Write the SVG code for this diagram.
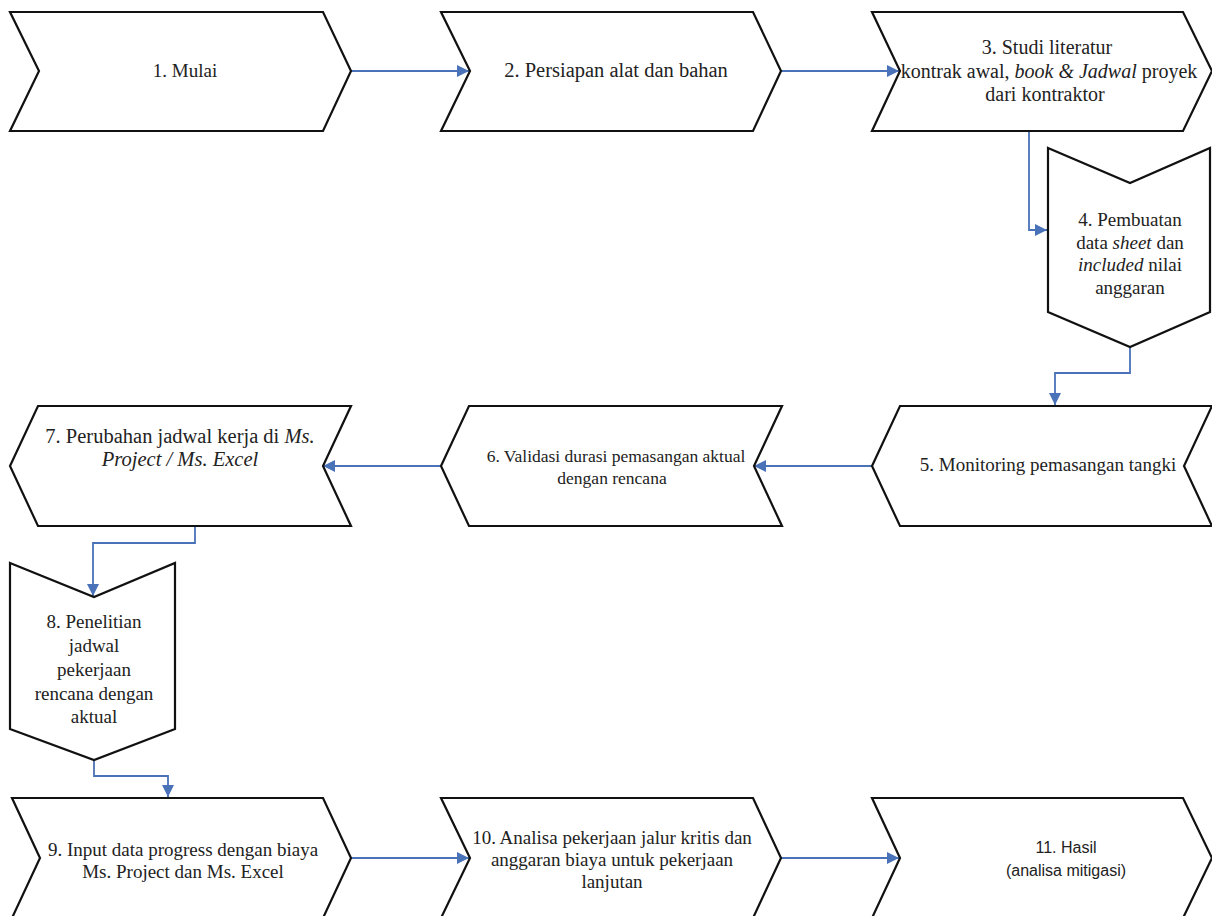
<svg xmlns="http://www.w3.org/2000/svg" width="1212" height="916" viewBox="0 0 1212 916">
<style>
.shape{fill:#fff;stroke:#111;stroke-width:2.2;stroke-linejoin:miter}
.t{font-family:"Liberation Serif","Times New Roman",serif;font-size:19px;fill:#222;text-anchor:middle}
.s{font-family:"Liberation Sans",Arial,sans-serif;font-size:16px;fill:#222;text-anchor:middle}
.c{fill:none;stroke:#4a72b8;stroke-width:1.8}
</style>
<defs>
<marker id="ah" markerUnits="userSpaceOnUse" markerWidth="14" markerHeight="12" refX="12" refY="6" orient="auto">
<path d="M0,0 L12,6 L0,12 Z" fill="#4a72b8"/>
</marker>
</defs>
<rect width="1212" height="916" fill="#fff"/>
<g id="connectors">
<path class="c" d="M351,71 H469" marker-end="url(#ah)"/>
<path class="c" d="M781,71 H899" marker-end="url(#ah)"/>
<path class="c" d="M1029,131 V230 H1047" marker-end="url(#ah)"/>
<path class="c" d="M1130,347 V373 H1055 V405" marker-end="url(#ah)"/>
<path class="c" d="M872,466 H754" marker-end="url(#ah)"/>
<path class="c" d="M441,466 H323" marker-end="url(#ah)"/>
<path class="c" d="M195,526 V543 H93 V596" marker-end="url(#ah)"/>
<path class="c" d="M94,760 V776 H168 V797" marker-end="url(#ah)"/>
<path class="c" d="M351,858 H469" marker-end="url(#ah)"/>
<path class="c" d="M781,858 H899" marker-end="url(#ah)"/>
</g>
<g id="n1">
<polygon class="shape" points="10,12 323,12 351,71 323,131 10,131 39,71"/>
<text class="t" x="185" y="77">1. Mulai</text>
</g>
<g id="n2">
<polygon class="shape" points="441,12 753,12 781,71 753,131 441,131 470,71"/>
<text class="t" x="616" y="77" style="font-size:20.5px">2. Persiapan alat dan bahan</text>
</g>
<g id="n3">
<polygon class="shape" points="872,12 1183,12 1212,71 1183,131 872,131 900,71"/>
<text class="t" x="1047" y="54" style="font-size:20px">3. Studi literatur</text>
<text class="t" x="1049" y="78" style="font-size:20px">kontrak awal, <tspan font-style="italic">book &amp; Jadwal</tspan> proyek</text>
<text class="t" x="1045" y="101" style="font-size:20px">dari kontraktor</text>
</g>
<g id="n4">
<polygon class="shape" points="1048,148 1130,183 1210,148 1210,312 1130,347 1048,312"/>
<text class="t" x="1130" y="226">4. Pembuatan</text>
<text class="t" x="1130" y="249">data <tspan font-style="italic">sheet</tspan> dan</text>
<text class="t" x="1130" y="271"><tspan font-style="italic">included</tspan> nilai</text>
<text class="t" x="1130" y="294">anggaran</text>
</g>
<g id="n5">
<polygon class="shape" points="872,466 900,406 1212,406 1184,466 1212,526 900,526"/>
<text class="t" x="1048" y="471">5. Monitoring pemasangan tangki</text>
</g>
<g id="n6">
<polygon class="shape" points="441,466 469,406 782,406 754,466 782,526 469,526"/>
<text class="t" x="616" y="462" style="font-size:17.5px">6. Validasi durasi pemasangan aktual</text>
<text class="t" x="612" y="484" style="font-size:17.5px">dengan rencana</text>
</g>
<g id="n7">
<polygon class="shape" points="10,466 38,406 351,406 323,466 351,526 38,526"/>
<text class="t" x="180" y="443" style="font-size:20.5px">7. Perubahan jadwal kerja di <tspan font-style="italic">Ms.</tspan></text>
<text class="t" x="180" y="466" style="font-size:20.5px" font-style="italic">Project / Ms. Excel</text>
</g>
<g id="n8">
<polygon class="shape" points="10,563 94,597 175,563 175,729 94,760 10,729"/>
<text class="t" x="94" y="628">8. Penelitian</text>
<text class="t" x="94" y="652">jadwal</text>
<text class="t" x="94" y="676">pekerjaan</text>
<text class="t" x="94" y="700">rencana dengan</text>
<text class="t" x="94" y="723">aktual</text>
</g>
<g id="n9">
<polygon class="shape" points="12,798 323,798 351,858 323,918 12,918 40,858"/>
<text class="t" x="183" y="856">9. Input data progress dengan biaya</text>
<text class="t" x="183" y="878">Ms. Project dan Ms. Excel</text>
</g>
<g id="n10">
<polygon class="shape" points="441,798 753,798 781,858 753,918 441,918 470,858"/>
<text class="t" x="612" y="844">10. Analisa pekerjaan jalur kritis dan</text>
<text class="t" x="612" y="866">anggaran biaya untuk pekerjaan</text>
<text class="t" x="612" y="888">lanjutan</text>
</g>
<g id="n11">
<polygon class="shape" points="872,798 1183,798 1212,858 1183,918 872,918 900,858"/>
<text class="s" x="1066" y="853">11. Hasil</text>
<text class="s" x="1066" y="876">(analisa mitigasi)</text>
</g>
</svg>
